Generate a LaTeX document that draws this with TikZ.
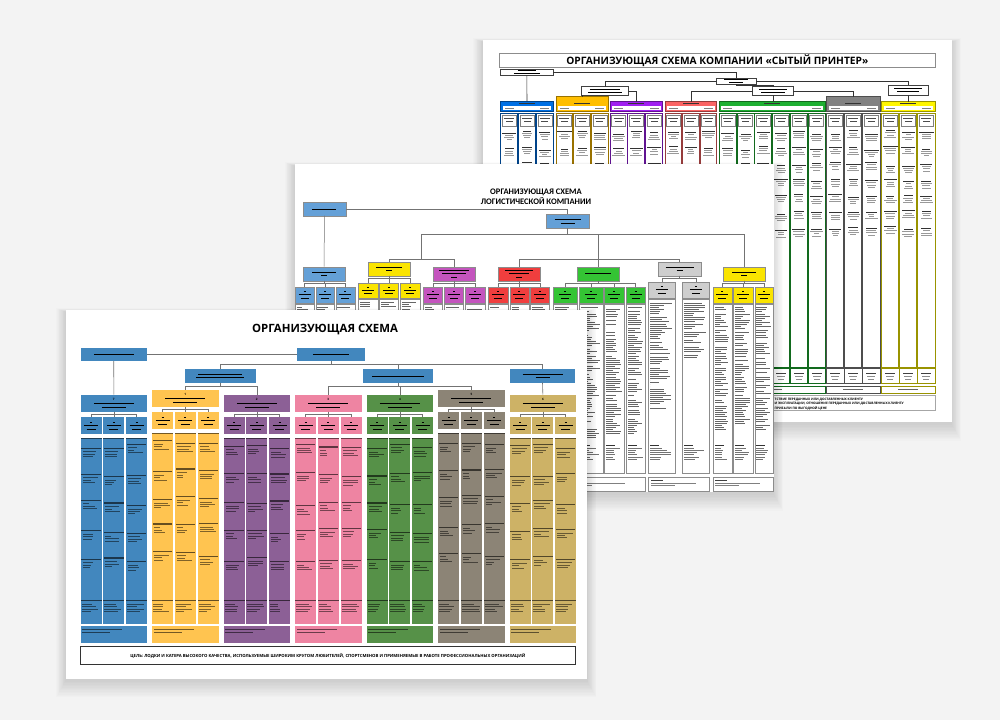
\documentclass[tikz,border=0pt]{standalone}
\usepackage{fontspec}
\setmainfont{Open Sans}
\newfontfamily\logofont{Carlito}
\usepackage{tikz}
\usetikzlibrary{positioning,calc}
\definecolor{desk}{RGB}{243,243,243}
% front sheet
\definecolor{fblue}{RGB}{66,135,190}
\definecolor{fyellow}{RGB}{255,196,80}
\definecolor{fpurple}{RGB}{140,96,150}
\definecolor{fpink}{RGB}{238,132,162}
\definecolor{fgreen}{RGB}{86,145,72}
\definecolor{ftaupe}{RGB}{140,132,118}
\definecolor{fgold}{RGB}{205,178,102}
% logistics sheet
\definecolor{lblue}{RGB}{100,160,215}
\definecolor{lyellow}{RGB}{250,228,0}
\definecolor{lmagenta}{RGB}{196,84,190}
\definecolor{lred}{RGB}{240,62,62}
\definecolor{lgreen}{RGB}{52,196,52}
\definecolor{lgrey}{RGB}{206,206,206}
% printer sheet
\definecolor{pblue}{RGB}{0,112,228}
\definecolor{porange}{RGB}{255,190,0}
\definecolor{pviolet}{RGB}{160,32,240}
\definecolor{psalmon}{RGB}{250,100,100}
\definecolor{pgreen}{RGB}{30,176,50}
\definecolor{pgrey}{RGB}{130,130,130}
\definecolor{pyellow}{RGB}{255,245,0}
\tikzset{
  sheet/.style={fill=white},
  fbox/.style={anchor=north west, inner sep=0pt, outer sep=0pt, align=center,
    font=\bfseries\fontsize{3}{3.6}\selectfont},
  lbox/.style={anchor=north west, inner sep=0pt, outer sep=0pt, align=center,
    draw=black!45, line width=0.4pt, font=\bfseries\fontsize{2.6}{3.2}\selectfont},
  pbox/.style={anchor=north west, inner sep=0pt, outer sep=0pt, align=center,
    draw=black!75, line width=0.5pt, fill=white, font=\bfseries\fontsize{2.4}{3}\selectfont},
  flink/.style={draw=black!55, line width=0.6pt},
  llink/.style={draw=black!55, line width=0.5pt},
  plink/.style={draw=black!80, line width=0.6pt}
}
\newcommand{\gl}[1]{\rule{#1pt}{0.75pt}}
\newcommand{\papershadow}[4]{%
  \foreach \sh in {1,...,12}{%
    \fill[black, opacity=0.012] (#1-\sh*0.8,#2-\sh*0.3+2) rectangle (#3+\sh*0.8,#4+\sh*1.4+2);}}

\begin{document}
\begin{tikzpicture}[x=1pt, y=-1pt]
\pgfmathsetseed{11}
\useasboundingbox (0,0) rectangle (1000,720);
\fill[desk] (0,0) rectangle (1000,720);

%% Back sheet
\papershadow{483}{40}{951.5}{422}
\fill[sheet] (483,40) rectangle (951.5,422);
\node[pbox, draw=black!45, minimum width=436.6pt, minimum height=13.3pt,
  font=\bfseries\fontsize{10.2}{12}\selectfont] (ptitle) at (499,53.7)
  {ОРГАНИЗУЮЩАЯ СХЕМА КОМПАНИИ «СЫТЫЙ ПРИНТЕР»};

% Departments and columns
\foreach \nm/\x/\w/\n/\col/\up in {hBlue/500.7/52.6/3/pblue/0, hOrange/556/52.3/3/porange/5,
  hPurple/610/52.7/3/pviolet/0, hRed/665/51.7/3/psalmon/0, hGreen/719.3/105.7/6/pgreen/0,
  hGrey/826.7/53.3/3/pgrey/5, hYellow/881.7/53.3/3/pyellow/0}{
  \pgfmathsetmacro\hh{10+\up}
  \node[pbox, fill=\col, draw=\col!60!black, minimum width=\w pt, minimum height=\hh pt]
    (\nm) at (\x,101.7-\up) {};
  \fill[white] (\x+2,106.4) rectangle (\x+\w-2,110.2);
  \fill[black!80] (\x+\w/2-8,103.3) rectangle ++(16,0.8);
  \fill[black!50] (\x+4,107.8) rectangle ++(9,0.5);
  \fill[black!50] (\x+\w-13,107.8) rectangle ++(9,0.5);
  \pgfmathsetmacro\cw{(\w-(\n-1)*0.8)/\n}
  \foreach \jj in {1,...,\n}{
    \pgfmathsetmacro\cx{\x+(\jj-1)*(\cw+0.8)}
    \draw[\col!60!black, line width=1pt] (\cx,113) rectangle (\cx+\cw,367);
    \draw[black!50, line width=0.3pt] (\cx+1.5,115.5) rectangle (\cx+\cw-1.5,126);
    \fill[black!70] (\cx+\cw/2-5,118) rectangle ++(10,0.6);
    \fill[black!70] (\cx+\cw/2-3.5,121) rectangle ++(7,0.6);
    \foreach \gi in {0,...,6}{
      \pgfmathsetmacro\yg{130+\gi*16+4*rnd}
      \pgfmathsetmacro\la{\cw*(0.45+0.4*rnd)}
      \fill[black!80] (\cx+\cw/2-\la/2,\yg) rectangle ++(\la,0.9);
      \foreach \li in {1,2,3}{
        \pgfmathsetmacro\lb{\cw*(0.3+0.45*rnd)}
        \fill[black!40] (\cx+\cw/2-\lb/2,\yg+\li*2.2) rectangle ++(\lb,0.5);}
    }
    \draw[\col!60!black, line width=0.8pt, fill=white] (\cx,368.8) rectangle (\cx+\cw,383);
    \fill[black!75] (\cx+\cw/2-5,373) rectangle ++(10,0.7);
    \fill[black!45] (\cx+\cw/2-4,376.2) rectangle ++(8,0.5);
    \fill[black!45] (\cx+\cw/2-3,378.6) rectangle ++(6,0.5);
  }
  \draw[\col!60!black, line width=0.8pt, fill=white] (\x,386) rectangle (\x+\w,393.5);
  \fill[black!60] (\x+\w/2-10,389.4) rectangle ++(20,0.6);
}

% Management
\node[pbox, minimum width=52.4pt, minimum height=6.4pt] (pgd) at (500.6,69) {\gl{18}\\\gl{26}};
\node[pbox, minimum width=39.3pt, minimum height=6.3pt] (ped) at (716.7,78) {\gl{24}\\\gl{14}};
\node[pbox, minimum width=46.3pt, minimum height=8.3pt] (pdA) at (581.7,86.7) {\gl{30}\\\gl{34}};
\node[pbox, minimum width=40.3pt, minimum height=8.3pt] (pdB) at (752.7,86.7) {\gl{28}\\\gl{24}};
\node[pbox, minimum width=40pt, minimum height=10pt] (pdC) at (888,85) {\gl{28}\\\gl{22}};

\draw[plink] (pgd.east) -| (ped.north);
\draw[plink] (pgd.south) -- (hBlue.north);
\draw[plink] (ped.west) -| (pdA.north);
\draw[plink] (ped.east) -| (pdC.north);
\draw[plink] (ped.south) -- ++(0,1) -| (pdB.north);
\draw[plink] (hOrange.north) -- (hOrange.north |- pdA.south);
\draw[plink] (pdA.east) -| (hPurple.north);
\draw[plink] (pdB.west) -| (hRed.north);
\draw[plink] (pdB.south) -- (pdB.south |- hGreen.north);
\draw[plink] (pdB.east) -| (hGrey.north);
\draw[plink] (pdC.south) -- (pdC.south |- hYellow.north);

\draw[black!35, line width=0.5pt] (499,395.5) rectangle (935.6,410.5);
\node[anchor=north west, inner sep=0pt, align=left, font=\bfseries\fontsize{3.2}{3.6}\selectfont]
  (pnote) at (774.5,398.3) {ТСТВИЕ ПЕРЕДАННЫХ ИЛИ ДОСТАВЛЕННЫХ КЛИЕНТУ\\
  И ЭКСПЛУАТАЦИИ, ОТНОШЕНИЕ ПЕРЕДАННЫХ ИЛИ ДОСТАВЛЕННЫХ КЛИЕНТУ\\
  ПРИБЫЛИ ПО ВЫГОДНОЙ ЦЕНЕ};

%% Middle sheet
\papershadow{294.6}{164}{773.6}{492}
\fill[sheet] (294.6,164) rectangle (773.6,492);
\node[font=\logofont\bfseries\fontsize{8.5}{10.5}\selectfont, align=center] (ltitle) at (536,196.5)
  {ОРГАНИЗУЮЩАЯ СХЕМА\\ЛОГИСТИЧЕСКОЙ КОМПАНИИ};

\node[lbox, fill=lblue, minimum width=43.3pt, minimum height=13.4pt] (gd) at (302.7,202.3) {\gl{24}};
\node[lbox, fill=lblue, minimum width=43pt, minimum height=14pt] (ed) at (546,214.3) {\gl{26}\\\gl{14}};
\node[lbox, fill=lblue, minimum width=41.7pt, minimum height=14pt] (b2) at (303.3,266.7) {\gl{24}\\\gl{6}};
\node[lbox, fill=lyellow, minimum width=42pt, minimum height=14pt] (y2a) at (368,261.7) {\gl{26}\\\gl{6}};
\node[lbox, fill=lmagenta, minimum width=41.7pt, minimum height=14pt] (m2) at (433.3,266.7) {\gl{30}\\\gl{24}\\\gl{6}};
\node[lbox, fill=lred, minimum width=42pt, minimum height=14pt] (r2) at (498,266.7) {\gl{28}\\\gl{20}\\\gl{6}};
\node[lbox, fill=lgreen, minimum width=42pt, minimum height=14pt] (g2) at (577.3,266.7) {\gl{26}};
\node[lbox, fill=lgrey, minimum width=42.4pt, minimum height=14pt] (k2) at (658.3,261.7) {\gl{28}\\\gl{6}};
\node[lbox, fill=lyellow, minimum width=41.7pt, minimum height=14pt] (y2b) at (723.3,266.7) {\gl{24}\\\gl{6}};

\coordinate (busA) at (421,259);
\coordinate (busB) at (598.3,259);
\draw[llink] (gd.east) -| (ed.north);
\draw[llink] (gd.south) -- (b2.north);
\draw[llink] (ed.south) -- ++(0,5.7) -| (busA);
\draw[llink] (ed.south) -- ++(0,5.7) -| (busB);
\draw[llink] (ed.south) -- ++(0,5.7) -| (y2b.north);
\draw[llink] (busA) -| (y2a.north);
\draw[llink] (busA) -| (m2.north);
\draw[llink] (busB) -| (r2.north);
\draw[llink] (busB) -| (g2.north);
\draw[llink] (busB) -| (k2.north);

% Sections and their columns
\foreach \nm/\prt/\x/\y/\w/\hh/\col/\d in {
  sb1/b2/295/286.7/19.3/16/lblue/3, sb2/b2/315.7/286.7/18.6/16/lblue/3, sb3/b2/335.7/286.7/19.3/16/lblue/3,
  sy1/y2a/358.3/282.7/19.4/15/lyellow/3, sy2/y2a/379.3/282.7/19/15/lyellow/3, sy3/y2a/400/282.7/20/15/lyellow/3,
  sm1/m2/423.5/286.7/19.1/16/lmagenta/3, sm2/m2/444.5/286.7/19.1/16/lmagenta/3, sm3/m2/465.6/286.7/19.4/16/lmagenta/3,
  sr1/r2/488/286.7/19.7/16/lred/3, sr2/r2/510/286.7/18.7/16/lred/3, sr3/r2/530.6/286.7/18.7/16/lred/3,
  sg1/g2/553.5/286.7/23.5/16/lgreen/62, sg2/g2/579/286.7/23.7/16/lgreen/62,
  sg3/g2/604/286.7/20/16/lgreen/60, sg4/g2/626/286.7/19.4/16/lgreen/60,
  sk1/k2/648.5/281.7/26.5/16.3/lgrey/50, sk2/k2/682.5/281.7/26.5/16.3/lgrey/27,
  sw1/y2b/713/286.7/18.7/16/lyellow/58, sw2/y2b/733.5/286.7/19.3/16/lyellow/56, sw3/y2b/754.7/286.7/18.5/16/lyellow/58}{
  \node[lbox, fill=\col, minimum width=\w pt, minimum height=\hh pt] (\nm) at (\x,\y) {\gl{2}\\\gl{12}\\\gl{8}};
  \draw[llink] (\prt.south) -- ++(0,3) -| (\nm.north);
  \pgfmathsetmacro\ct{\y+\hh+1.5}
  \draw[black!45, line width=0.4pt] (\x,\ct) rectangle (\x+\w,473);
  \foreach \li in {0,...,\d}{
    \pgfmathsetmacro\len{(rnd<0.18)?0:(\w-3)*(0.35+0.6*rnd)}
    \pgfmathsetmacro\lh{(rnd<0.1)?0.9:0.5}
    \fill[black!60] (\x+1.5,\ct+3+\li*2.1) rectangle ++(\len,\lh);}
  \fill[black!80] (\x+1.5,445) rectangle ++(9,0.8);
  \foreach \li in {1,...,6}{
    \pgfmathsetmacro\len{(\w-3)*(0.4+0.55*rnd)}
    \fill[black!55] (\x+1.5,446+\li*2.1) rectangle ++(\len,0.5);}
}
\foreach \x/\w in {295/60, 358.3/61.7, 423.5/61.5, 488/61.3, 553.5/92, 648.5/60.5, 713/60.2}{
  \draw[black!45, line width=0.5pt] (\x,477.5) rectangle ++(\w,13.5);
  \fill[black!75] (\x+2,480) rectangle ++(12,0.6);
  \fill[black!50] (\x+2,482.6) rectangle ++(\w*0.75,0.5);
  \fill[black!50] (\x+2,485) rectangle ++(\w*0.4,0.5);
}

%% Front sheet
\papershadow{65.7}{310}{586.7}{678.6}
\fill[sheet] (65.7,310) rectangle (586.7,678.6);
\node[font=\bfseries\fontsize{11.4}{13}\selectfont] (ftitle) at (325,329.5) {ОРГАНИЗУЮЩАЯ СХЕМА};

% Row 1
\node[fbox, fill=fblue, minimum width=66.5pt, minimum height=12.7pt] (chair) at (80.5,348.3) {\gl{40}};
\node[fbox, fill=fblue, minimum width=68.3pt, minimum height=12.7pt] (exec) at (296.7,348.3) {\gl{36}};
% Row 2
\node[fbox, fill=fblue, minimum width=70.7pt, minimum height=13.4pt] (depA) at (185,369.3) {\gl{44}\\\gl{48}};
\node[fbox, fill=fblue, minimum width=70pt, minimum height=13.4pt] (depB) at (363.3,369.3) {\gl{52}};
\node[fbox, fill=fblue, minimum width=65pt, minimum height=13.4pt] (depC) at (510,369.3) {\gl{40}\\\gl{14}};

% Departments
\foreach \ci/\col/\nr/\up in {0/fblue/7/0, 1/fyellow/1/5, 2/fpurple/2/0, 3/fpink/3/0,
  4/fgreen/4/0, 5/ftaupe/5/5, 6/fgold/6/0}{
  \pgfmathsetmacro\xc{80.5+\ci*71.5}
  \pgfmathsetmacro\yh{394.5-\up}
  \node[fbox, fill=\col, minimum width=66.7pt, minimum height=17.3pt] (h\ci) at (\xc,\yh)
    {\nr\\\gl{40}\\\gl{24}};
  \foreach \si in {0,1,2}{
    \pgfmathsetmacro\xs{\xc+\si*22.85}
    \node[fbox, fill=\col, minimum width=21pt, minimum height=16.5pt] (s\ci\si) at (\xs,\yh+22.8)
      {\gl{2}\\\gl{14}\\\gl{9}};
    \draw[flink] (h\ci.south) -- ++(0,2.8) -| (s\ci\si.north);
    \fill[\col] (\xs,\yh+43) rectangle (\xs+21,623.5);
    \fill[\col!45!black] (\xs,\yh+43) rectangle (\xs+21,\yh+44.4);
    \foreach \gi in {0,...,4}{
      \pgfmathsetmacro\yg{\yh+49+\gi*28+6*rnd}
      \fill[\col!40!black] (\xs+0.8,\yg) rectangle ++(19.4,1.1);
      \foreach \li in {1,2,3}{
        \pgfmathsetmacro\len{6+10*rnd}
        \fill[\col!50!black] (\xs+2,\yg+1.3+\li*2.4) rectangle ++(\len,0.55);}
    }
    \fill[\col!40!black] (\xs,599.5) rectangle (\xs+21,601);
    \foreach \li in {1,...,4}{
      \pgfmathsetmacro\len{8+10*rnd}
      \fill[\col!50!black] (\xs+1,601+\li*2.5) rectangle ++(\len,0.6);}
  }
  \fill[\col] (\xc,626) rectangle (\xc+66.7,643.3);
  \fill[\col!45!black] (\xc+1.5,629) rectangle ++(40,0.7);
  \fill[\col!45!black] (\xc+1.5,631.6) rectangle ++(28,0.7);
}

% Connections
\draw[flink] (chair.east) -- (exec.west);
\draw[flink] (chair.south) -- (h0.north);
\draw[flink] (exec.south) -- ++(0,3.5) -| (depA.north);
\draw[flink] (exec.south) -- ++(0,3.5) -| (depB.north);
\draw[flink] (exec.south) -- ++(0,3.5) -| (depC.north);
\draw[flink] (depA.south) -- ++(0,3.8) -| (h1.north);
\draw[flink] (depA.south) -- ++(0,3.8) -| (h2.north);
\draw[flink] (depB.south) -- ++(0,3.8) -| (h3.north);
\draw[flink] (depB.south) -- ++(0,3.8) -| (h4.north);
\draw[flink] (depB.south) -- ++(0,3.8) -| (h5.north);
\draw[flink] (depC.south) -- (h6.north);

\node[anchor=north west, draw=black!80, line width=0.7pt, fill=white, inner sep=0pt,
  minimum width=495pt, minimum height=18.4pt, font=\bfseries\fontsize{4.25}{5}\selectfont]
  (aim) at (80,646) {ЦЕЛЬ: ЛОДКИ И КАТЕРА ВЫСОКОГО КАЧЕСТВА, ИСПОЛЬЗУЕМЫЕ ШИРОКИМ КРУГОМ ЛЮБИТЕЛЕЙ, СПОРТСМЕНОВ И ПРИМЕНЯЕМЫЕ В РАБОТЕ ПРОФЕССИОНАЛЬНЫХ ОРГАНИЗАЦИЙ};
\end{tikzpicture}
\end{document}
